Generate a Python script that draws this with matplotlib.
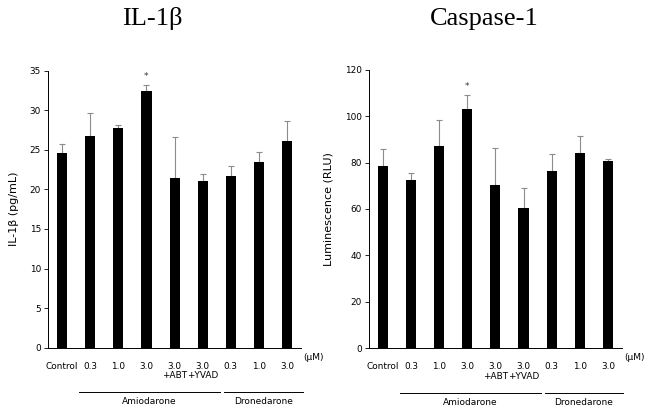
import matplotlib.pyplot as plt
import matplotlib.transforms as mtransforms

tick_labels = ["Control", "0.3", "1.0", "3.0", "3.0\n+ABT", "3.0\n+YVAD", "0.3", "1.0", "3.0"]
il1b_mean = [24.6, 26.8, 27.8, 32.4, 21.5, 21.0, 21.7, 23.5, 26.1]
il1b_err = [1.1, 2.9, 0.4, 0.8, 5.1, 1.0, 1.2, 1.2, 2.5]
casp_mean = [78.5, 72.5, 87.0, 103.2, 70.2, 60.5, 76.5, 84.0, 80.8]
casp_err = [7.5, 3.0, 11.2, 5.8, 16.0, 8.5, 7.3, 7.5, 0.7]
groups = ["Amiodarone", "Dronedarone"]
sig_index = 3

plt.rcParams['font.family'] = "DejaVu Sans"

fig = plt.figure(figsize=(6.61, 4.11), dpi=100)
ax1 = fig.add_axes([0.0726, 0.154, 0.383, 0.674])
ax2 = fig.add_axes([0.558, 0.153, 0.383, 0.677])


def draw_panel(ax, means, errs, ymax, ystep, ylabel):
    x = list(range(len(means)))
    ax.bar(x, means, width=0.36, color="black", zorder=2)
    ax.errorbar(x, means, yerr=[[0] * len(errs), errs], fmt="none",
                ecolor="#8c8c8c", elinewidth=0.8, capsize=2.2, capthick=0.8, zorder=1)
    ax.set_xlim(-0.5, len(means) - 0.5)
    ax.set_ylim(0, ymax)
    ax.set_yticks(range(0, ymax + 1, ystep))
    ax.set_xticks(x)
    ax.set_xticklabels(tick_labels, fontsize=6.4, va="top", linespacing=1.1)
    ax.tick_params(axis="x", length=0, pad=10)
    ax.tick_params(axis="y", length=3, width=0.6, labelsize=6.4, pad=2)
    ax.spines["top"].set_visible(False)
    ax.spines["right"].set_visible(False)
    ax.spines["left"].set_linewidth(0.7)
    ax.spines["bottom"].set_linewidth(0.7)
    ax.set_ylabel(ylabel, fontsize=8, labelpad=8)

    # significance star
    top = means[sig_index] + errs[sig_index]
    ax.text(sig_index, top + ymax * 0.015, "*", ha="center", va="bottom",
            fontsize=6.5, color="#333333")

    trans = mtransforms.blended_transform_factory(ax.transData, ax.transAxes)
    ax.text(1.01, -0.034, "(\u03bcM)", transform=ax.transAxes, fontsize=6.5,
            ha="left", va="center")
    spans = [(0.6, 5.62), (5.75, 8.55)]
    for name, (a, b) in zip(groups, spans):
        ax.plot([a, b], [-0.16, -0.16], color="black", lw=0.7,
                transform=trans, clip_on=False)
        ax.text((a + b) / 2, -0.195, name, transform=trans, fontsize=6.5,
                ha="center", va="center")


draw_panel(ax1, il1b_mean, il1b_err, 35, 5, "IL-1\u03b2 (pg/mL)")
draw_panel(ax2, casp_mean, casp_err, 120, 20, "Luminescence (RLU)")

fig.text(152 / 661, 1 - 25 / 411, "IL-1\u03b2", fontsize=19, family="Liberation Serif",
         ha="center", va="baseline")
fig.text(484 / 661, 1 - 25 / 411, "Caspase-1", fontsize=19, family="Liberation Serif",
         ha="center", va="baseline")

fig.savefig("out.png", dpi=100)
